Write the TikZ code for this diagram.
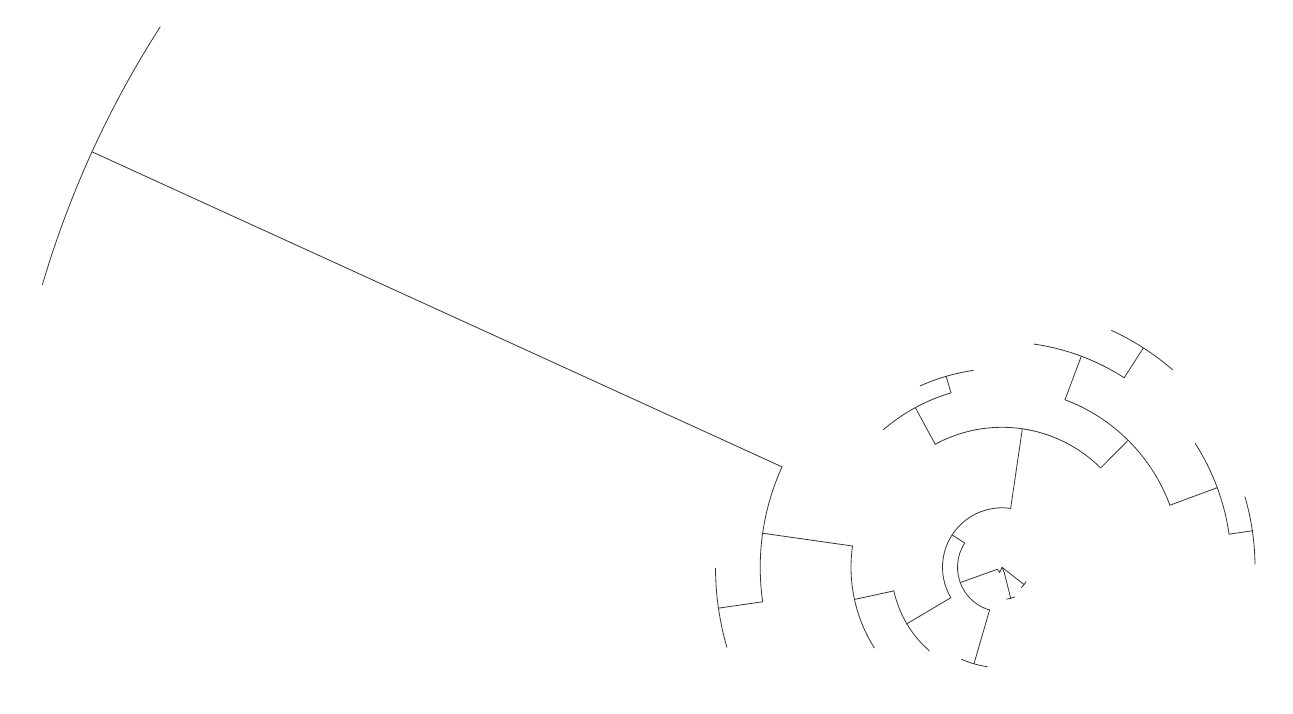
\documentclass[tikz,border=0pt]{standalone}
\newcommand\dArc[3]{\draw[branch] (#2:#1pt) arc[start angle=#2, end angle=#3, radius=#1pt];}
\newcommand\dRad[3]{\draw[branch] (#1:#2pt) -- (#1:#3pt);}
\begin{document}
\begin{tikzpicture}[x=1pt,y=1pt,
  branch/.style={draw=black!80, line width=0.8pt, line cap=round, line join=round}]
\useasboundingbox[fill=white] (0,0) rectangle (1293,714);
\begin{scope}[shift={(1002,146.7)}]
% arcs (radius, start angle, end angle)
\dArc{1000.4}{147.3}{163.6}
\dArc{241.8}{155.46}{188.2}
\dArc{286.5}{180.2}{196.2}
\dArc{151}{171.9}{212.3}
\dArc{110.7}{192.3}{229}
\dArc{59.5}{81.65}{210.7}
\dArc{44.5}{147}{253.8}
\dArc{100.5}{246.3}{261.6}
\dArc{140}{45.2}{118.5}
\dArc{181.7}{106.3}{130.8}
\dArc{199}{98.3}{114.3}
\dArc{179}{20.3}{69.4}
\dArc{225.5}{57.2}{81.8}
\dArc{261}{49.2}{65.2}
\dArc{229.5}{8.3}{32.7}
\dArc{253}{0.7}{16.2}
% radial branches (angle, inner radius, outer radius)
\dRad{155.46}{241.8}{1000.4}
\dRad{188.2}{241.8}{286.5}
\dRad{171.9}{151}{241.8}
\dRad{192.3}{110.7}{151}
\dRad{210.7}{59.5}{110.7}
\dRad{147}{44.5}{59.5}
\dRad{81.65}{59.5}{140}
\dRad{253.8}{44.5}{100.5}
\dRad{118.5}{140}{181.7}
\dRad{106.3}{181.7}{199}
\dRad{45.2}{140}{179}
\dRad{69.4}{179}{225.5}
\dRad{57.2}{225.5}{261}
\dRad{20.3}{179}{229.5}
\dRad{8.3}{229.5}{253}
% central part
\coordinate (r0) at (0,0);
\coordinate (z1) at (-4.7,-2);
\coordinate (z2) at (-2.3,-5.2);
\coordinate (z3) at (2.3,-5.5);
\coordinate (t1) at (285.7:32.2);
\coordinate (t2) at (321.9:28);
\draw[branch] (200.1:44.5pt) -- (z1) -- (z2) -- (r0) -- (z3) -- (t1);
\draw[branch] (r0) -- (t2);
\dArc{28}{313.5}{329}
\dArc{32.2}{278.5}{293}
\end{scope}
\end{tikzpicture}
\end{document}
